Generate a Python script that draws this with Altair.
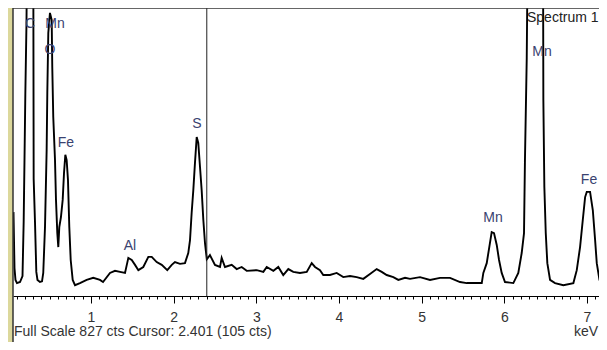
import altair as alt
import pandas as pd

# ---- spectrum (keV, counts) ----
kev = [0.063, 0.075, 0.087, 0.105, 0.142, 0.172, 0.186, 0.196, 0.206, 0.220,
       0.238, 0.275, 0.300, 0.307, 0.323, 0.339, 0.353, 0.383, 0.408, 0.423,
       0.444, 0.464, 0.472, 0.484, 0.504, 0.525, 0.532, 0.544, 0.565, 0.577,
       0.593, 0.605, 0.617, 0.637, 0.658, 0.674, 0.690, 0.706, 0.722, 0.738,
       0.755, 0.779, 0.807, 0.867, 0.948, 1.028, 1.109, 1.146, 1.230, 1.291,
       1.351, 1.412, 1.452, 1.493, 1.533, 1.573, 1.633, 1.694, 1.735, 1.795,
       1.856, 1.923, 1.977, 2.016, 2.077, 2.137, 2.177, 2.198, 2.218, 2.238,
       2.258, 2.279, 2.298, 2.319, 2.339, 2.359, 2.379, 2.401, 2.439, 2.500,
       2.561, 2.581, 2.621, 2.702, 2.763, 2.823, 2.884, 3.005, 3.085, 3.126,
       3.206, 3.266, 3.326, 3.387, 3.447, 3.528, 3.610, 3.670, 3.710, 3.770,
       3.810, 3.891, 3.972, 4.052, 4.133, 4.214, 4.294, 4.375, 4.456, 4.517,
       4.577, 4.657, 4.718, 4.799, 4.859, 4.980, 5.101, 5.222, 5.343, 5.464,
       5.545, 5.727, 5.746, 5.787, 5.818, 5.847, 5.875, 5.908, 5.936, 5.968,
       6.008, 6.109, 6.169, 6.210, 6.238, 6.249, 6.271, 6.283, 6.371, 6.468,
       6.472, 6.484, 6.501, 6.520, 6.553, 6.613, 6.714, 6.835, 6.876, 6.916,
       6.949, 6.977, 6.997, 7.037, 7.070, 7.098, 7.118, 7.151, 7.191, 7.232]
counts = [240, 80, 46, 37, 40, 57, 212, 389, 575, 780,
          1300, 1400, 1300, 335, 212, 69, 46, 40, 42, 66,
          197, 418, 581, 753, 810, 790, 655, 512, 389, 275,
          180, 140, 197, 226, 275, 352, 404, 389, 332, 197,
          103, 46, 31, 37, 46, 52, 46, 40, 66, 72,
          69, 66, 109, 103, 89, 74, 83, 112, 112, 97,
          89, 74, 89, 97, 92, 94, 123, 160, 238, 303,
          381, 455, 438, 369, 303, 218, 152, 105, 117, 89,
          83, 109, 83, 89, 77, 83, 72, 74, 69, 83,
          72, 83, 60, 77, 69, 66, 69, 94, 83, 74,
          60, 60, 66, 54, 57, 54, 49, 63, 77, 69,
          60, 54, 46, 52, 49, 54, 46, 52, 52, 40,
          37, 37, 66, 94, 140, 183, 180, 146, 103, 66,
          40, 37, 66, 123, 180, 383, 681, 1000, 1500, 1000,
          561, 312, 180, 94, 46, 37, 31, 37, 74, 140,
          218, 283, 298, 298, 246, 160, 94, 46, 26, 31]

# ---- peak labels ----
label_text = ["C", "Mn", "O", "Fe", "Al", "S", "Mn", "Mn", "Fe"]
label_kev = [0.262, 0.565, 0.504, 0.698, 1.472, 2.282, 5.863, 6.456, 7.024]
label_cts = [778, 778, 704, 438, 143, 492, 223, 698, 332]

spectrum_name = ["Spectrum 1"]
spectrum_kev = [6.274]
spectrum_cts = [796]

full_scale = 827
cursor_kev = [2.401]
cursor_cts = 105
unit = "keV"

tick_values = [round(i * 0.1, 1) for i in range(1, 72)]

FONT = "Liberation Sans"
W, H = 586, 288

x_scale = alt.Scale(domain=[0.057, 7.145], nice=False, zero=False)
y_scale = alt.Scale(domain=[0, 824], nice=False, zero=True)

is_int = "abs(datum.value - round(datum.value)) < 0.001"
x_axis = alt.Axis(
    values=tick_values,
    title=None,
    grid=False,
    domainColor="#000000",
    domainWidth=1,
    tickColor="#000000",
    tickWidth=1,
    tickSize={"condition": {"test": is_int, "value": 7}, "value": 3},
    labelExpr=is_int + " ? format(round(datum.value), 'd') : ''",
    labelFont=FONT,
    labelFontSize=14,
    labelColor="#333333",
    labelPadding=7,
    labelOverlap=False,
    labelFlush=False,
)

spec = pd.DataFrame({"keV": kev, "cts": counts})

line = alt.Chart(spec).mark_line(color="#000000", strokeWidth=1.9, clip=True).encode(
    x=alt.X("keV:Q", scale=x_scale, axis=x_axis),
    y=alt.Y("cts:Q", scale=y_scale, axis=None),
)

cursor = alt.Chart(pd.DataFrame({"keV": cursor_kev})).mark_rule(
    color="#222222", strokeWidth=1
).encode(x=alt.X("keV:Q", scale=x_scale, axis=x_axis))

labels = alt.Chart(
    pd.DataFrame({"keV": label_kev, "cts": label_cts, "t": label_text})
).mark_text(font=FONT, fontSize=14, color="#3a4270", baseline="middle", align="center").encode(
    x=alt.X("keV:Q", scale=x_scale, axis=x_axis),
    y=alt.Y("cts:Q", scale=y_scale, axis=None),
    text="t:N",
)

name = alt.Chart(
    pd.DataFrame({"keV": spectrum_kev, "cts": spectrum_cts, "t": spectrum_name})
).mark_text(font=FONT, fontSize=14, color="#222222", baseline="middle", align="left").encode(
    x=alt.X("keV:Q", scale=x_scale, axis=x_axis),
    y=alt.Y("cts:Q", scale=y_scale, axis=None),
    text="t:N",
)

footer_str = f"Full Scale {full_scale} cts Cursor: {cursor_kev[0]:.3f}  ({cursor_cts} cts)"
footer = alt.Chart(pd.DataFrame({"t": [footer_str]})).mark_text(
    font=FONT, fontSize=14, color="#333333", baseline="middle", align="left"
).encode(x=alt.value(1), y=alt.value(324), text="t:N")

unit_txt = alt.Chart(pd.DataFrame({"t": [unit]})).mark_text(
    font=FONT, fontSize=14, color="#333333", baseline="middle", align="right"
).encode(x=alt.value(W - 1), y=alt.value(324), text="t:N")

dummy = pd.DataFrame({"a": [0]})
khaki = alt.Chart(dummy).mark_rect(color="#dcd89c").encode(
    x=alt.value(-5), x2=alt.value(0), y=alt.value(0), y2=alt.value(334)
)
left_border = alt.Chart(dummy).mark_rule(color="#333333", strokeWidth=1.5).encode(
    x=alt.value(0), y=alt.value(0), y2=alt.value(334)
)
top_border = alt.Chart(dummy).mark_rule(color="#333333", strokeWidth=1.5).encode(
    x=alt.value(0), x2=alt.value(W), y=alt.value(0)
)

chart = alt.layer(
    khaki, line, cursor, labels, name, footer, unit_txt, left_border, top_border
).properties(
    width=W,
    height=H,
    padding={"left": 5, "top": 0, "right": 0, "bottom": 46},
    autosize=alt.AutoSizeParams(type="none"),
    background="#ffffff",
).configure_view(stroke=None)

chart.save("out.html", embed_options={"renderer": "svg", "actions": False})
